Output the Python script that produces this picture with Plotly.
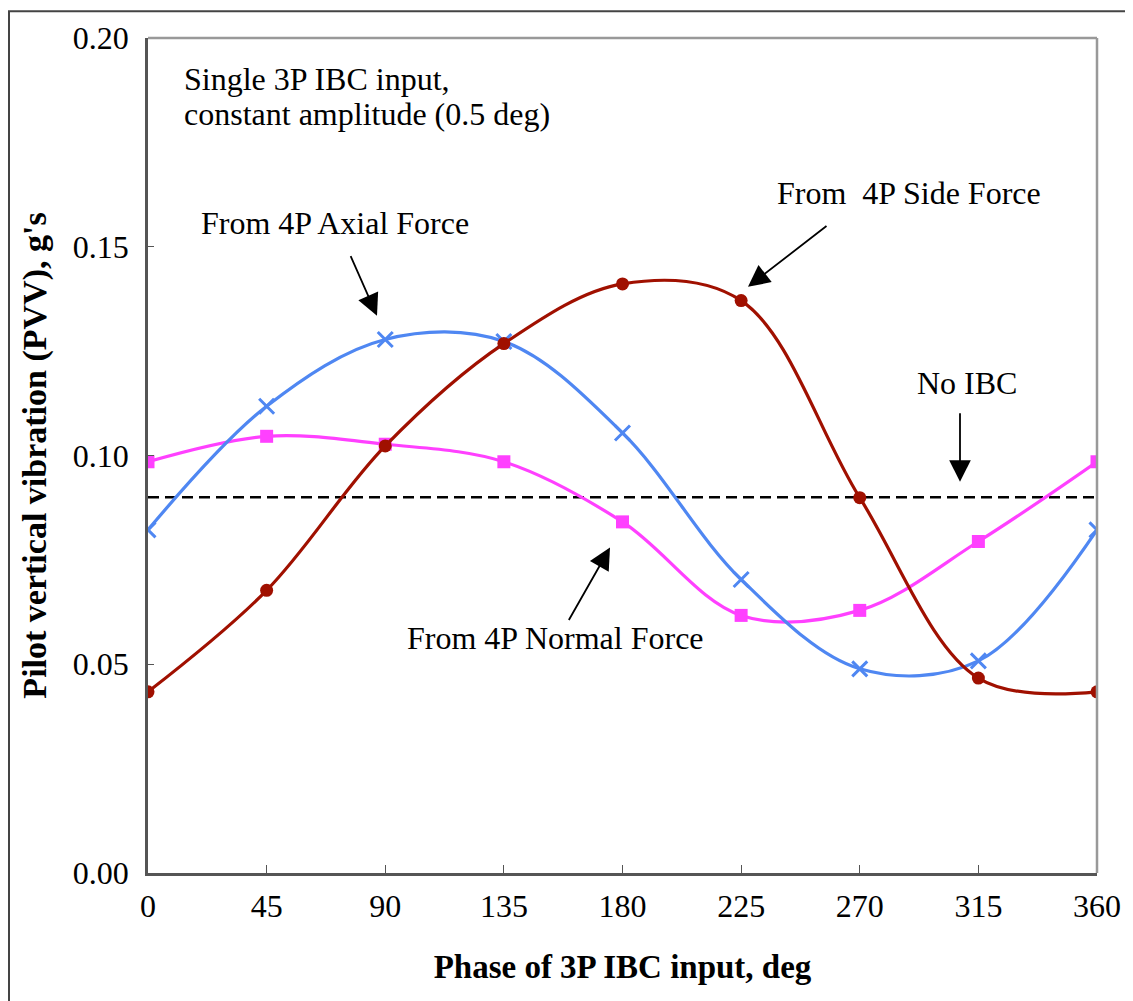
import plotly.graph_objects as go

phase = [0, 45, 90, 135, 180, 225, 270, 315, 360]
side_force = [0.0434, 0.0677, 0.1023, 0.1268, 0.1411, 0.1371, 0.0899, 0.0467, 0.0434]
axial_force = [0.0822, 0.1118, 0.1278, 0.1273, 0.1054, 0.0703, 0.0489, 0.0508, 0.0822]
normal_force = [0.0985, 0.1046, 0.1027, 0.0985, 0.0841, 0.0617, 0.0629, 0.0794, 0.0985]
no_ibc_x = [0, 360]
no_ibc = [0.09, 0.09]
x_ticks = [0, 45, 90, 135, 180, 225, 270, 315, 360]
y_ticks = [0.00, 0.05, 0.10, 0.15, 0.20]

# page offset of the figure inside the browser (body margin)
OX, OY = 8, 8
W, H = 1133 - OX, 1001 - OY
L, T = 148 - OX, 34 - OY
pw, ph = 949, 839
R = W - L - pw
B = H - T - ph
FONT = "Liberation Serif"

fig = go.Figure()
fig.add_trace(go.Scatter(x=no_ibc_x, y=no_ibc, mode="lines",
                         line=dict(color="black", width=2.5, dash="11px,6px"),
                         showlegend=False, hoverinfo="skip"))
fig.add_trace(go.Scatter(x=phase, y=normal_force, mode="lines+markers",
                         line=dict(color="#FF40FF", width=3.2, shape="spline", smoothing=1),
                         marker=dict(symbol="square", size=13, color="#FF40FF"),
                         showlegend=False))
fig.add_trace(go.Scatter(x=phase, y=axial_force, mode="lines+markers",
                         line=dict(color="#4F87F2", width=3.2, shape="spline", smoothing=1),
                         marker=dict(symbol="x-thin", size=15, line=dict(color="#4F87F2", width=3)),
                         showlegend=False))
fig.add_trace(go.Scatter(x=phase, y=side_force, mode="lines+markers",
                         line=dict(color="#A01000", width=3.2, shape="spline", smoothing=1),
                         marker=dict(symbol="circle", size=13, color="#A01000"),
                         showlegend=False))


def px2paper(px, py):
    # px, py in reference screenshot pixels
    fx, fy = px - OX, py - OY
    return (fx - L) / pw, (H - B - fy) / ph


texts = [
    ("Single 3P IBC input,", 182, 75, "left"),
    ("constant amplitude (0.5 deg)", 182, 110, "left"),
    ("From 4P Axial Force", 335, 220, "center"),
    ("From  4P Side Force", 909, 190, "center"),
    ("No IBC", 967, 381, "center"),
    ("From 4P Normal Force", 555, 637, "center"),
]
for t, px, py, al in texts:
    xp, yp = px2paper(px, py)
    fig.add_annotation(text=t, xref="paper", yref="paper", x=xp, y=yp,
                       xanchor=al, yanchor="middle", showarrow=False,
                       font=dict(family=FONT, size=32, color="black"))

arrows = [(350, 252, 377, 313), (828, 222, 748, 284), (960, 410, 960, 480), (568, 620, 610, 546)]
for tx, ty, hx, hy in arrows:
    xp, yp = px2paper(hx, hy)
    fig.add_annotation(text="", xref="paper", yref="paper", x=xp, y=yp,
                       ax=tx - hx, ay=ty - hy, axref="pixel", ayref="pixel",
                       showarrow=True, arrowhead=2, arrowsize=2.4, arrowwidth=1.8,
                       arrowcolor="black")

fig.add_shape(type="line", xref="paper", yref="paper", x0=0, x1=1, y0=1, y1=1,
              line=dict(color="#999999", width=2.5))
fig.add_shape(type="line", xref="paper", yref="paper", x0=1, x1=1, y0=0, y1=1,
              line=dict(color="#999999", width=2.5))
x0p, y1p = px2paper(9, 7)
x1p, y0p = px2paper(1150, 1020)
fig.add_shape(type="rect", xref="paper", yref="paper", x0=x0p, x1=x1p, y0=y0p, y1=y1p,
              line=dict(color="#444444", width=2))

fig.update_layout(
    width=W, height=H,
    margin=dict(l=L, r=R, t=T, b=B),
    paper_bgcolor="white", plot_bgcolor="white",
    font=dict(family=FONT, size=32, color="black"),
    xaxis=dict(range=[0, 360], tickvals=x_ticks, ticktext=[str(v) for v in x_ticks],
               showgrid=False, zeroline=False, showline=True, linecolor="#555555",
               linewidth=2.5, ticks="inside", ticklen=8, tickcolor="#555555",
               tickfont=dict(family=FONT, size=32), ticklabelstandoff=3,
               title=dict(text="<b>Phase of 3P IBC input, deg</b>",
                          font=dict(family=FONT, size=33), standoff=32)),
    yaxis=dict(range=[0, 0.2], tickvals=y_ticks, ticktext=[f"{v:.2f}" for v in y_ticks],
               showgrid=False, zeroline=False, showline=True, linecolor="#555555",
               linewidth=2.5, ticks="inside", ticklen=6, tickcolor="#555555",
               tickfont=dict(family=FONT, size=32), ticklabelstandoff=10,
               title=dict(text="<b>Pilot vertical vibration (PVV), g's</b>",
                          font=dict(family=FONT, size=34), standoff=16)),
)

fig.write_html("out.html")
